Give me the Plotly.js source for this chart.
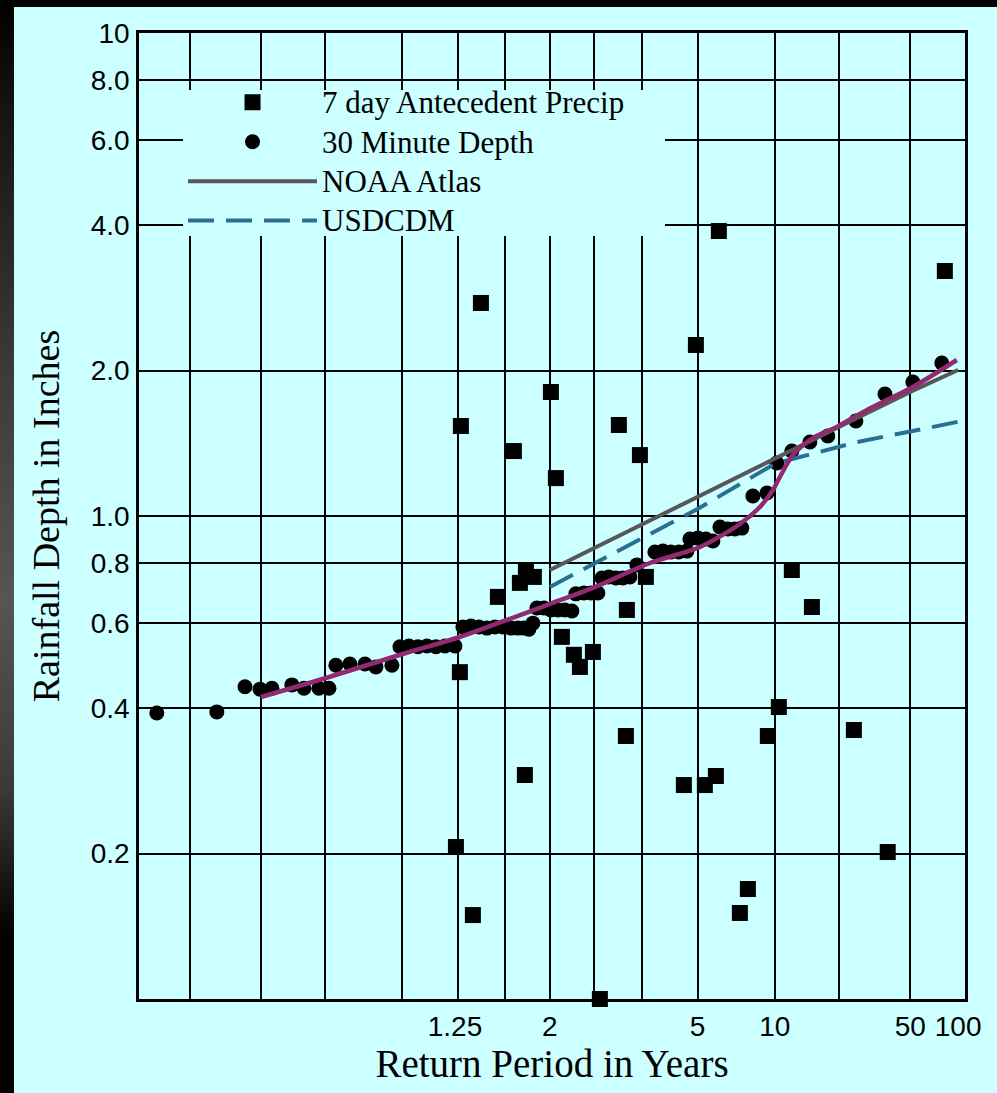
<!DOCTYPE html>
<html>
<head>
<meta charset="utf-8">
<script src="https://cdn.plot.ly/plotly-3.0.1.min.js"></script>
<style>
html,body{margin:0;padding:0;width:997px;height:1093px;overflow:hidden;}
body{background:linear-gradient(to bottom,#000 0%,#141414 10%,#3c3c3c 35%,#555 55%,#3a3a3a 72%,#000 86%,#000 100%);}
#chart{position:absolute;left:14px;top:7px;width:983px;height:1086px;}
</style>
</head>
<body>
<div id="chart"></div>
<script>
// ---------- data (return period in years, rainfall depth in inches) ----------
const depthT = [1.0127,1.0297,1.0429,1.0518,1.0600,1.0761,1.0876,1.1038,1.1161,1.1252,1.1457,1.1710,1.1915,1.2255,
  1.2444,1.2673,1.2920,1.3188,1.3477,1.3790,1.4169,1.4493,1.4844,1.5219,1.5620,1.6051,1.6513,1.7010,1.7474,1.7892,
  1.8262,1.8567,1.8886,1.9470,2.0092,2.0756,2.1464,2.2217,2.2670,2.3629,2.4534,2.5497,2.6076,2.7144,2.8297,2.9525,
  3.0836,3.2258,3.6390,3.8491,4.0766,4.3253,4.5977,4.7059,5.0125,5.3476,5.6657,6.0132,6.4433,6.8540,7.2993,8.0841,
  9.2507,10.215,11.905,14.451,17.668,24.631,35.587,51.813,78.37];
const depthIn = [0.391,0.393,0.443,0.438,0.440,0.447,0.440,0.440,0.440,0.491,0.494,0.494,0.487,0.491,
  0.536,0.538,0.536,0.538,0.536,0.538,0.538,0.589,0.592,0.589,0.586,0.589,0.589,0.586,0.586,0.586,
  0.583,0.600,0.645,0.645,0.639,0.639,0.639,0.636,0.690,0.693,0.693,0.693,0.744,0.748,0.744,0.744,
  0.748,0.792,0.842,0.846,0.842,0.842,0.846,0.896,0.900,0.896,0.888,0.949,0.940,0.940,0.944,1.100,
  1.116,1.287,1.363,1.423,1.464,1.573,1.789,1.894,2.074];

const precipT = [1.4207,1.4368,1.4409,1.4934,1.5317,1.6221,1.7203,1.7609,1.7963,1.8038,1.8645,2.0092,2.0559,2.1152,
  2.2442,2.3142,2.4802,2.5780,2.8810,3.0075,3.0266,3.2895,3.4223,4.4924,4.9334,5.3022,5.8106,5.9595,7.1685,7.7160,
  9.3371,10.417,11.905,14.771,24.038,36.900,81.97];
const precipIn = [0.2064,0.475,1.536,0.1492,2.761,0.680,1.363,0.727,0.2909,0.766,0.748,1.806,1.198,0.562,
  0.516,0.487,0.523,0.100,1.543,0.3504,0.639,1.337,0.748,0.2773,2.260,0.2773,0.2895,3.891,0.1507,0.1689,
  0.3504,0.4022,0.773,0.648,0.3605,0.2015,3.216];

const noaaT = [2,5,10,25,50,100];
const noaaIn = [0.773,1.098,1.315,1.596,1.807,2.006];

const usdcdmT = [2,5,10,25,50,100];
const usdcdmIn = [0.713,1.034,1.283,1.423,1.496,1.567];

const fitT = [1.0524,1.1122,1.2594,1.4368,1.6756,1.9731,2.4802,3.5162,5.0916,7.1685,8.6430,9.8135,10.526,12.034,14.925,19.608,28.249,51.813,98.04];
const fitIn = [0.4219,0.4620,0.5204,0.5617,0.6092,0.6541,0.7096,0.7992,0.8626,0.9626,1.0438,1.1318,1.2044,1.3376,1.4502,1.5285,1.6580,1.8499,2.1036];

// axis grid (non-exceedance probabilities) and labels
const gridProb = [0.02,0.05,0.1,0.2,0.3,0.4,0.5,0.6,0.7,0.8,0.9,0.95,0.98];
const xRangeProb = [0.0096,0.991];
const xTickT = [1.417,2,5,10,50,100];
const xTickText = ['1.25','2','5','10','50','100'];
const yTickVals = [0.2,0.4,0.6,0.8,1,2,4,6,8,10];
const yTickText = ['0.2','0.4','0.6','0.8','1.0','2.0','4.0','6.0','8.0','10'];
const seriesNames = ['7 day Antecedent Precip','30 Minute Depth','NOAA Atlas','USDCDM'];

// ---------- probability (normal) scale for return period ----------
function normInv(p){
  const a=[-3.969683028665376e+01,2.209460984245205e+02,-2.759285104469687e+02,1.383577518672690e+02,-3.066479806614716e+01,2.506628277459239e+00];
  const b=[-5.447609879822406e+01,1.615858368580409e+02,-1.556989798598866e+02,6.680131188771972e+01,-1.328068155288572e+01];
  const c=[-7.784894002430293e-03,-3.223964580411365e-01,-2.400758277161838e+00,-2.549732539343734e+00,4.374664141464968e+00,2.938163982698783e+00];
  const d=[7.784695709041462e-03,3.224671290700398e-01,2.445134137142996e+00,3.754408661907416e+00];
  const pl=0.02425, ph=1-pl; let q,r;
  if(p<pl){q=Math.sqrt(-2*Math.log(p));return (((((c[0]*q+c[1])*q+c[2])*q+c[3])*q+c[4])*q+c[5])/((((d[0]*q+d[1])*q+d[2])*q+d[3])*q+1);}
  if(p<=ph){q=p-0.5;r=q*q;return (((((a[0]*r+a[1])*r+a[2])*r+a[3])*r+a[4])*r+a[5])*q/(((((b[0]*r+b[1])*r+b[2])*r+b[3])*r+b[4])*r+1);}
  q=Math.sqrt(-2*Math.log(1-p));return -(((((c[0]*q+c[1])*q+c[2])*q+c[3])*q+c[4])*q+c[5])/((((d[0]*q+d[1])*q+d[2])*q+d[3])*q+1);
}
const rp2x = T => normInv(1 - 1/T);
const xr = [normInv(xRangeProb[0]), normInv(xRangeProb[1])];

const serif = '"Liberation Serif", "Times New Roman", serif';
const sans = '"Liberation Sans", Arial, sans-serif';
const hov = '%{customdata:.3g} yr<br>%{y:.3f} in<extra></extra>';
const legName = s => '<span style="font-size:31px">' + s + '</span>';

const traces = [
  {type:'scatter', mode:'markers', name:legName(seriesNames[0]), x:precipT.map(rp2x), y:precipIn, customdata:precipT,
   hovertemplate:hov, marker:{symbol:'square', size:16, color:'#000'}, cliponaxis:false, legendrank:1},
  {type:'scatter', mode:'markers', name:legName(seriesNames[1]), x:depthT.map(rp2x), y:depthIn, customdata:depthT,
   hovertemplate:hov, marker:{symbol:'circle', size:15, color:'#000'}, cliponaxis:false, legendrank:2},
  {type:'scatter', mode:'lines', name:legName(seriesNames[2]), x:noaaT.map(rp2x), y:noaaIn, customdata:noaaT,
   hovertemplate:hov, line:{color:'#575757', width:4}, legendrank:3},
  {type:'scatter', mode:'lines', name:legName(seriesNames[3]), x:usdcdmT.map(rp2x), y:usdcdmIn, customdata:usdcdmT,
   hovertemplate:hov, line:{color:'#2a6e93', width:4, dash:'26px,12px'}, legendrank:4},
  {type:'scatter', mode:'lines', name:'Fitted curve', xaxis:'x2', x:fitT.map(rp2x), y:fitIn, customdata:fitT,
   hovertemplate:hov, line:{color:'#912a70', width:4.5, shape:'spline', smoothing:0.8}, showlegend:false}
];

const layout = {
  width:983, height:1086,
  margin:{l:125, r:32, t:26, b:94, autoexpand:false},
  paper_bgcolor:'#ccffff', plot_bgcolor:'#ccffff',
  showlegend:true,
  legend:{x:0.0533, y:0.9538, xanchor:'left', yanchor:'top', bgcolor:'rgba(0,0,0,0)', borderwidth:0,
    font:{family:serif, size:28, color:'#000'}, itemwidth:129, traceorder:'normal', itemclick:false, itemdoubleclick:false},
  // opaque panel behind the legend that hides the grid there
  shapes:[{type:'rect', xref:'paper', yref:'paper', x0:0.0533, x1:0.6368, y0:0.7899, y1:0.941,
    fillcolor:'#ccffff', line:{width:0}, layer:'above'}],
  xaxis:{range:xr, type:'linear', tickvals:gridProb.map(p=>normInv(p)), showticklabels:false, ticks:'',
    showgrid:true, gridcolor:'#000', gridwidth:1.6, zeroline:false,
    showline:true, linecolor:'#000', linewidth:2.5, mirror:true, fixedrange:true},
  xaxis2:{overlaying:'x', anchor:'y', side:'bottom', range:xr, type:'linear',
    tickvals:xTickT.map(rp2x), ticktext:xTickText, ticks:'', showgrid:false, zeroline:false, showline:false,
    tickfont:{family:sans, size:28, color:'#000'}, ticklabelstandoff:8,
    title:{text:'Return Period in Years', font:{family:serif, size:39, color:'#000'}, standoff:5}, fixedrange:true},
  yaxis:{type:'log', range:[-1,1], tickvals:yTickVals, ticktext:yTickText, ticks:'',
    tickfont:{family:sans, size:28, color:'#000'}, ticklabelstandoff:1,
    showgrid:true, gridcolor:'#000', gridwidth:1.6, zeroline:false,
    showline:true, linecolor:'#000', linewidth:2.5, mirror:true,
    title:{text:'Rainfall Depth in Inches', font:{family:serif, size:38, color:'#000'}, standoff:20}, fixedrange:true}
};

Plotly.newPlot('chart', traces, layout, {displayModeBar:false, responsive:false});
</script>
</body>
</html>
